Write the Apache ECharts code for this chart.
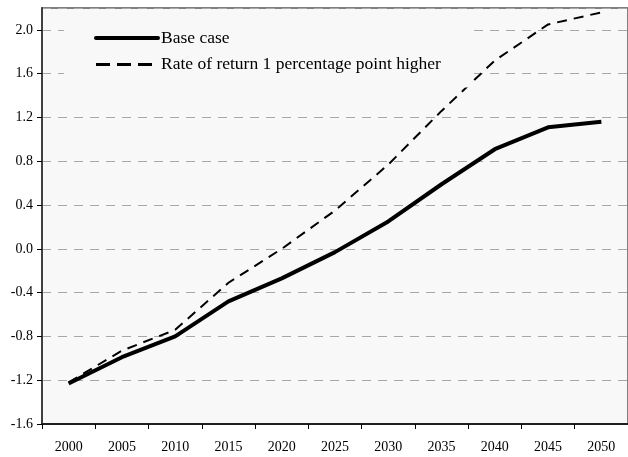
<!DOCTYPE html>
<html><head><meta charset="utf-8">
<script src="https://cdn.jsdelivr.net/npm/echarts@6/dist/echarts.min.js"></script>
<style>html,body{margin:0;padding:0;background:#fff}#c{width:628px;height:457px}</style>
</head><body><div id="c"></div>
<script>
var years = ['2000','2005','2010','2015','2020','2025','2030','2035','2040','2045','2050'];
var baseCase = [-1.23,-0.99,-0.80,-0.48,-0.27,-0.03,0.25,0.59,0.91,1.11,1.16];
var higherReturn = [-1.22,-0.93,-0.74,-0.31,0.00,0.35,0.77,1.26,1.72,2.05,2.16];
var names = ['Base case','Rate of return 1 percentage point higher'];
var font = 'Liberation Serif';
var chart = echarts.init(document.getElementById('c'));
chart.setOption({
  animation:false,
  backgroundColor:'#ffffff',
  grid:{left:42,right:-4,top:8,bottom:33,show:true,backgroundColor:'#f8f8f8',borderColor:'#808080',borderWidth:2},
  legend:{
    orient:'vertical',left:64,top:25,
    backgroundColor:'#f8f8f8',padding:[4,30,14,30],
    itemWidth:62,itemHeight:12,itemGap:8.5,
    itemStyle:{opacity:0},
    textStyle:{fontFamily:font,fontSize:17.5,color:'#000',padding:[0,0,0,-2]},
    data:[
      {name:names[0],lineStyle:{width:4,color:'#000',type:'solid',cap:'round'}},
      {name:names[1],lineStyle:{width:3,color:'#000',type:[14,7]}}
    ]
  },
  xAxis:{
    type:'category',data:years,boundaryGap:true,
    axisLine:{onZero:false,lineStyle:{color:'#202020',width:2}},
    axisTick:{show:true,length:5,lineStyle:{color:'#000'}},
    axisLabel:{fontFamily:font,fontSize:14,color:'#000',margin:16},
    splitLine:{show:false}
  },
  yAxis:{
    type:'value',min:-1.6,max:2.2,interval:0.4,
    axisLine:{show:true,lineStyle:{color:'#404040',width:2}},
    axisTick:{show:true,length:5,inside:false,lineStyle:{color:'#000'}},
    axisLabel:{fontFamily:font,fontSize:14,color:'#000',showMaxLabel:false,margin:9,
      formatter:function(v){return v.toFixed(1);}},
    splitLine:{show:true,lineStyle:{color:'#a8a8a8',type:[9,7],width:1}}
  },
  series:[
    {name:names[1],type:'line',data:higherReturn,showSymbol:false,symbol:'none',
     lineStyle:{color:'#000',width:2,type:[10,7]},itemStyle:{color:'#000'},z:3},
    {name:names[0],type:'line',data:baseCase,showSymbol:false,symbol:'none',
     lineStyle:{color:'#000',width:4},itemStyle:{color:'#000'},z:4}
  ]
});
</script></body></html>
